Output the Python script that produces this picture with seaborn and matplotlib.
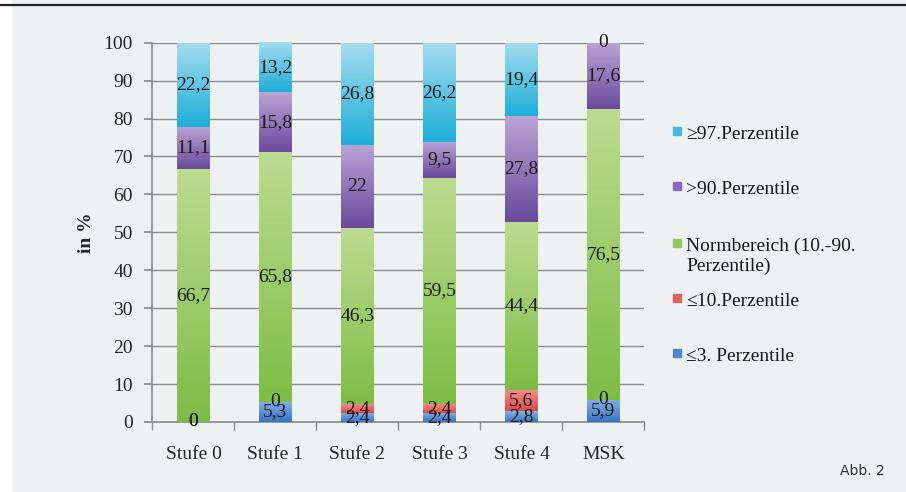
import numpy as np
import matplotlib
matplotlib.use('Agg')
import matplotlib.pyplot as plt
import seaborn as sns
from matplotlib.colors import LinearSegmentedColormap

# --- Data ---
categories = ['Stufe 0', 'Stufe 1', 'Stufe 2', 'Stufe 3', 'Stufe 4', 'MSK']
p3 = [0, 5.3, 2.4, 2.4, 2.8, 5.9]
p10 = [0, 0, 2.4, 2.4, 5.6, 0]
norm = [66.7, 65.8, 46.3, 59.5, 44.4, 76.5]
p90 = [11.1, 15.8, 22, 9.5, 27.8, 17.6]
p97 = [22.2, 13.2, 26.8, 26.2, 19.4, 0]

series_names = ['≤3. Perzentile', '≤10.Perzentile', 'Normbereich (10.-90.\nPerzentile)',
                '>90.Perzentile', '≥97.Perzentile']
series_colors = ['#4a87cc', '#e25f5f', '#93c75c', '#8a68b8', '#45b8de']
# (top, bottom) shades for the gradient fill
series_grads = [('#86b0e4', '#3a74c4'), ('#f29090', '#de4a4a'), ('#bddb90', '#7dbd46'),
                ('#baa4d6', '#6a4a9c'), ('#a4dcef', '#1eaed8')]

# --- Styling ---
BG = '#eef1f2'
sns.set_theme(style='white')
plt.rcParams['font.family'] = ['Liberation Serif', 'DejaVu Serif']
FS = 14
W, H = 906, 492

fig = plt.figure(figsize=(W / 100, H / 100), dpi=100)
fig.patch.set_facecolor(BG)
ax = fig.add_axes([0.1683, 0.1423, 0.543, 0.771])
ax.set_facecolor(BG)

# white strip on the left and black rule on top
fig.patches.append(plt.Rectangle((0, 0), 11 / W, 1, transform=fig.transFigure,
                                 color='white', zorder=0))
fig.add_artist(plt.Line2D([0, 1], [1 - 5 / H, 1 - 5 / H], transform=fig.transFigure,
                          color='#222222', lw=1.6))

# --- Stacked bars ---
bottom = np.zeros(len(categories))
all_series = [p3, p10, norm, p90, p97]
grad = np.linspace(0, 1, 64).reshape(-1, 1)
for vals, name, col, (c_top, c_bot) in zip(all_series, series_names, series_colors, series_grads):
    vals = np.array(vals, dtype=float)
    n_before = len(ax.patches)
    sns.barplot(x=categories, y=vals, bottom=bottom, color=col, width=0.4,
                ax=ax, zorder=3, linewidth=0)
    cmap = LinearSegmentedColormap.from_list(name, [c_bot, c_top])
    for p in ax.patches[n_before:]:
        if p.get_height() <= 0:
            continue
        x0, y0 = p.get_x(), p.get_y()
        img = ax.imshow(grad, cmap=cmap, origin='lower', aspect='auto', zorder=3.5,
                        extent=[x0, x0 + p.get_width(), y0, y0 + p.get_height()])
        img.set_clip_path(p)
    for i, v in enumerate(vals):
        label = ('%g' % v).replace('.', ',')
        ax.text(i, bottom[i] + v / 2, label, ha='center', va='center',
                fontsize=FS, color='#1a1a1a', zorder=5)
    bottom = bottom + vals

# --- Axes ---
ax.set_xlim(-0.5, len(categories) - 0.5)
ax.set_ylim(0, 100)
ax.set_yticks(np.arange(0, 101, 10))
ax.yaxis.grid(True, color='#8c8c8c', lw=1, zorder=0)
ax.set_axisbelow(True)
for s in ['top', 'right']:
    ax.spines[s].set_visible(False)
ax.spines['left'].set_color('#8c8c8c')
ax.spines['bottom'].set_color('#8c8c8c')
ax.tick_params(axis='y', length=6, color='#8c8c8c', labelsize=FS, pad=8, left=True)
ax.set_xticks(np.arange(len(categories)))
ax.set_xticklabels(categories)
ax.set_xticks(np.arange(-0.5, len(categories), 1), minor=True)
ax.tick_params(axis='x', which='major', length=0, labelsize=FS, pad=17)
ax.tick_params(axis='x', which='minor', length=6, color='#8c8c8c', bottom=True)
ax.set_xlabel('')
ax.set_ylabel('in %', fontsize=FS, fontweight='bold', labelpad=6)

# --- Legend (Excel-style: entries stacked on the right, top entry first) ---
legend_rows = [133, 188, 245, 300, 355]   # pixel rows of each entry's first text line
for (name, col), row in zip(list(zip(series_names, series_colors))[::-1], legend_rows):
    fig.patches.append(plt.Rectangle((673 / W, 1 - (row + 2) / H), 8 / W, 8 / H,
                                     transform=fig.transFigure, color=col, zorder=3))
    fig.text(686 / W, 1 - (row - 7) / H, name, ha='left', va='top', fontsize=FS,
             color='#1a1a1a', linespacing=1.15)

fig.text(0.977, 0.028, 'Abb. 2', ha='right', va='bottom', fontsize=10,
         family='DejaVu Sans', color='#333333')

fig.savefig('out.png', dpi=100, facecolor=fig.get_facecolor())
